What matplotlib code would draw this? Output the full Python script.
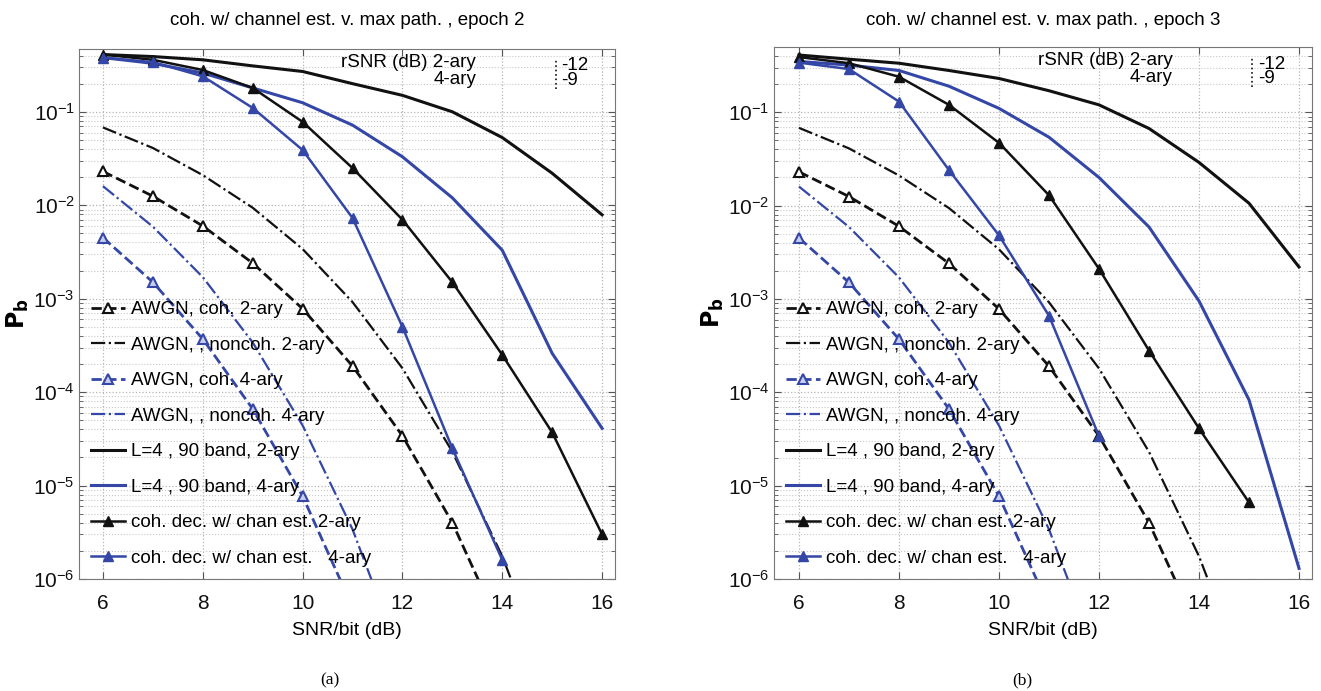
import numpy as np
import matplotlib
matplotlib.use("Agg")
import matplotlib.pyplot as plt
from matplotlib.ticker import LogLocator, NullFormatter

plt.rcParams['font.family'] = ['Liberation Sans', 'DejaVu Sans']
plt.rcParams['mathtext.default'] = 'regular'

# SNR/bit (dB)
snr = [6, 7, 8, 9, 10, 11, 12, 13, 14, 15, 16]

# AWGN reference curves (same in both panels)
awgn_coh2 = [2.3e-2, 1.25e-2, 6.0e-3, 2.4e-3, 7.8e-4, 1.9e-4, 3.4e-5, 4.0e-6, 2.7e-7]
awgn_noncoh2 = [6.8e-2, 4.1e-2, 2.1e-2, 9.4e-3, 3.4e-3, 9.2e-4, 1.8e-4, 2.3e-5, 1.75e-6, 7e-8]
awgn_coh4 = [4.5e-3, 1.5e-3, 3.7e-4, 6.6e-5, 7.7e-6, 5.0e-7]
awgn_noncoh4 = [1.6e-2, 5.9e-3, 1.7e-3, 3.4e-4, 4.4e-5, 3.4e-6, 1.3e-7]

# (a) epoch 2
band2_ep2 = [0.41, 0.39, 0.36, 0.31, 0.27, 0.20, 0.15, 0.10, 0.053, 0.022, 0.0079]
band4_ep2 = [0.38, 0.33, 0.26, 0.18, 0.125, 0.072, 0.033, 0.012, 0.0033, 2.6e-4, 4.1e-5]
chest2_ep2 = [0.41, 0.36, 0.28, 0.18, 0.078, 0.025, 0.0070, 0.0015, 2.5e-4, 3.7e-5, 3.0e-6]
chest4_ep2 = [0.38, 0.34, 0.24, 0.11, 0.039, 0.0073, 5.0e-4, 2.5e-5, 1.6e-6]

# (b) epoch 3
band2_ep3 = [0.41, 0.37, 0.335, 0.28, 0.23, 0.17, 0.12, 0.067, 0.029, 0.0106, 0.0022]
band4_ep3 = [0.35, 0.32, 0.28, 0.19, 0.11, 0.054, 0.020, 0.0059, 9.5e-4, 8.3e-5, 1.3e-6]
chest2_ep3 = [0.39, 0.335, 0.24, 0.12, 0.047, 0.0129, 0.0021, 2.8e-4, 4.1e-5, 6.6e-6]
chest4_ep3 = [0.34, 0.29, 0.13, 0.024, 0.0048, 6.6e-4, 3.4e-5]

labels = ['AWGN, coh. 2-ary', 'AWGN, , noncoh. 2-ary', 'AWGN, coh. 4-ary',
          'AWGN, , noncoh. 4-ary', 'L=4 , 90 band, 2-ary', 'L=4 , 90 band, 4-ary',
          'coh. dec. w/ chan est. 2-ary', 'coh. dec. w/ chan est.   4-ary']

BLACK = '#111111'
BLUE = '#3447a6'


def draw_panel(ax, band2, band4, chest2, chest4, epoch, ylim_top, xlim_left, title_pad):
    x = np.array(snr, dtype=float)
    ax.plot(x[:len(awgn_coh2)], awgn_coh2, '--', color=BLACK, lw=2, marker='^',
            ms=7, mfc='white', mec=BLACK, mew=1.5, label=labels[0])
    ax.plot(x[:len(awgn_noncoh2)], awgn_noncoh2, '-.', color=BLACK, lw=1.6, label=labels[1])
    ax.plot(x[:len(awgn_coh4)], awgn_coh4, '--', color=BLUE, lw=2, marker='^',
            ms=7, mfc='#c9cdee', mec=BLUE, mew=1.5, label=labels[2])
    ax.plot(x[:len(awgn_noncoh4)], awgn_noncoh4, '-.', color=BLUE, lw=1.6, label=labels[3])
    ax.plot(x[:len(band2)], band2, '-', color=BLACK, lw=2.2, label=labels[4])
    ax.plot(x[:len(band4)], band4, '-', color=BLUE, lw=2.2, label=labels[5])
    ax.plot(x[:len(chest2)], chest2, '-', color=BLACK, lw=1.8, marker='^', ms=7,
            mfc=BLACK, mec=BLACK, label=labels[6])
    ax.plot(x[:len(chest4)], chest4, '-', color=BLUE, lw=1.8, marker='^', ms=7,
            mfc=BLUE, mec=BLUE, label=labels[7])

    ax.set_yscale('log')
    ax.set_xlim(xlim_left, 16.26)
    ax.set_ylim(1e-6, ylim_top)
    ax.set_xticks([6, 8, 10, 12, 14, 16])
    ax.yaxis.set_major_locator(LogLocator(base=10, numticks=10))
    ax.yaxis.set_minor_locator(LogLocator(base=10, subs=np.arange(2, 10), numticks=20))
    ax.yaxis.set_minor_formatter(NullFormatter())
    ax.grid(True, which='major', linestyle=':', color='#b5b5b5', lw=0.9)
    ax.grid(True, which='minor', axis='y', linestyle=':', color='#c8c8c8', lw=0.8)
    ax.tick_params(which='both', direction='in', top=True, right=True, colors='#555555',
                   labelcolor='#111111')
    ax.tick_params(which='major', length=5)
    ax.tick_params(which='minor', length=3)
    ax.tick_params(axis='x', labelsize=15, pad=11)
    ax.tick_params(axis='y', labelsize=15, pad=3)
    for s in ax.spines.values():
        s.set_color('#777777')

    ax.set_title('coh. w/ channel est. v. max path. , epoch %d' % epoch, fontsize=13.5,
                 pad=title_pad)
    ax.set_xlabel('SNR/bit (dB)', fontsize=14, labelpad=6)
    ax.set_ylabel(r'$\mathbf{P_b}$', fontsize=17)
    ax.yaxis.set_label_coords(-0.09, 0.5)

    ax.legend(loc='lower left', frameon=False, fontsize=13.5, handlelength=1.8,
              handletextpad=0.35, labelspacing=0.98, borderaxespad=0.3, borderpad=0.35)

    # rSNR annotation box at the top
    ax.text(0.741, 0.974, 'rSNR (dB) 2-ary', transform=ax.transAxes, ha='right',
            va='center', fontsize=13.5)
    ax.text(0.741, 0.943, '4-ary', transform=ax.transAxes, ha='right', va='center', fontsize=13.5)
    ax.plot([0.889, 0.889], [0.924, 0.98], transform=ax.transAxes, ls=':', color=BLACK, lw=1.2)
    ax.text(0.899, 0.968, '-12', transform=ax.transAxes, ha='left', va='center', fontsize=13.5)
    ax.text(0.899, 0.94, '-9', transform=ax.transAxes, ha='left', va='center', fontsize=13.5)


fig = plt.figure(figsize=(13.21, 6.91), dpi=100)
ax1 = fig.add_axes([0.0598, 0.1621, 0.4058, 0.767])
ax2 = fig.add_axes([0.5859, 0.1621, 0.4073, 0.7699])

draw_panel(ax1, band2_ep2, band4_ep2, chest2_ep2, chest4_ep2, 2, 0.47, 5.52, 17)
draw_panel(ax2, band2_ep3, band4_ep3, chest2_ep3, chest4_ep3, 3, 0.5, 5.5, 15.5)

fig.text(0.25, 0.01, '(a)', fontsize=12.5, family='Liberation Serif', ha='center')
fig.text(0.774, 0.01, '(b)', fontsize=12.5, family='Liberation Serif', ha='center')

fig.savefig('out.png', dpi=100)
